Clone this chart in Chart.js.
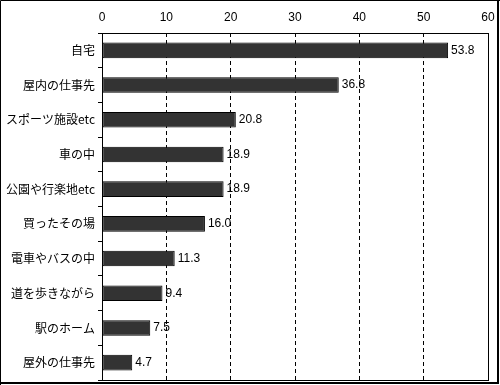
<!DOCTYPE html>
<html>
<head>
<meta charset="utf-8">
<script src="https://cdn.jsdelivr.net/npm/chart.js@4"></script>
<style>
  html, body { margin: 0; padding: 0; background: #fff; }
  #wrap { width: 500px; height: 385px; position: relative; }
</style>
</head>
<body>
<div id="wrap"><canvas id="grafica"></canvas></div>
<script>
var categorias = [
    '自宅',
    '屋内の仕事先',
    'スポーツ施設etc',
    '車の中',
    '公園や行楽地etc',
    '買ったその場',
    '電車やバスの中',
    '道を歩きながら',
    '駅のホーム',
    '屋外の仕事先'
];

var valores = [53.8, 36.8, 20.8, 18.9, 18.9, 16.0, 11.3, 9.4, 7.5, 4.7];

var ticksX = [0, 10, 20, 30, 40, 50, 60];

var fuente = "'Noto Sans CJK JP', 'Liberation Sans', sans-serif";

// marco del area y del lienzo, y etiquetas de valor
var marcos = {
    id: 'marcos',
    afterDatasetsDraw: function (chart) {
        var c = chart.ctx;
        var a = chart.chartArea;
        c.save();
        c.strokeStyle = '#000';
        c.lineWidth = 1;
        c.strokeRect(Math.round(a.left) + 0.5, Math.round(a.top) + 0.5,
            Math.round(a.right - a.left), Math.round(a.bottom - a.top));

        var meta = chart.getDatasetMeta(0);
        c.fillStyle = '#000';
        c.font = "12px 'Liberation Sans', sans-serif";
        c.textAlign = 'left';
        c.textBaseline = 'middle';
        meta.data.forEach(function (bar, i) {
            c.fillText(valores[i].toFixed(1), bar.x + 3, bar.y);
        });

        // borde exterior
        c.lineWidth = 1;
        c.beginPath();
        c.moveTo(0.5, chart.height);
        c.lineTo(0.5, 0.5);
        c.lineTo(chart.width, 0.5);
        c.stroke();
        c.lineWidth = 2;
        c.beginPath();
        c.moveTo(chart.width - 2, 0);
        c.lineTo(chart.width - 2, chart.height - 2);
        c.lineTo(0, chart.height - 2);
        c.stroke();
        c.restore();
    }
};

new Chart(document.getElementById('grafica'), {
    type: 'bar',
    data: {
        labels: categorias,
        datasets: [{
            data: valores,
            backgroundColor: '#333333',
            borderColor: '#000000',
            borderWidth: 1,
            borderSkipped: false,
            categoryPercentage: 1,
            barPercentage: 0.45
        }]
    },
    options: {
        indexAxis: 'y',
        responsive: true,
        maintainAspectRatio: false,
        animation: false,
        layout: {
            padding: { left: 0, top: 0, right: 12, bottom: 5 }
        },
        plugins: {
            legend: { display: false },
            tooltip: { enabled: false }
        },
        scales: {
            x: {
                position: 'top',
                min: 0,
                max: 60,
                afterBuildTicks: function (scale) {
                    scale.ticks = ticksX.map(function (v) { return { value: v }; });
                },
                afterFit: function (scale) {
                    scale.height = 33;
                    scale.paddingLeft = 0;
                    scale.paddingRight = 0;
                },
                grid: {
                    color: '#000',
                    lineWidth: 1,
                    drawTicks: false
                },
                border: { display: false, dash: [4, 3] },
                ticks: {
                    color: '#000',
                    padding: 8,
                    font: { family: "'Liberation Sans', sans-serif", size: 12 }
                }
            },
            y: {
                afterFit: function (scale) {
                    scale.width = 102;
                    scale.paddingTop = 0;
                    scale.paddingBottom = 0;
                },
                grid: {
                    drawOnChartArea: false,
                    color: '#000',
                    tickLength: 4,
                    offset: true
                },
                border: { display: true, color: '#000' },
                ticks: {
                    color: '#000',
                    padding: 3,
                    font: { family: fuente, size: 12 }
                }
            }
        }
    },
    plugins: [marcos]
});
</script>
</body>
</html>
